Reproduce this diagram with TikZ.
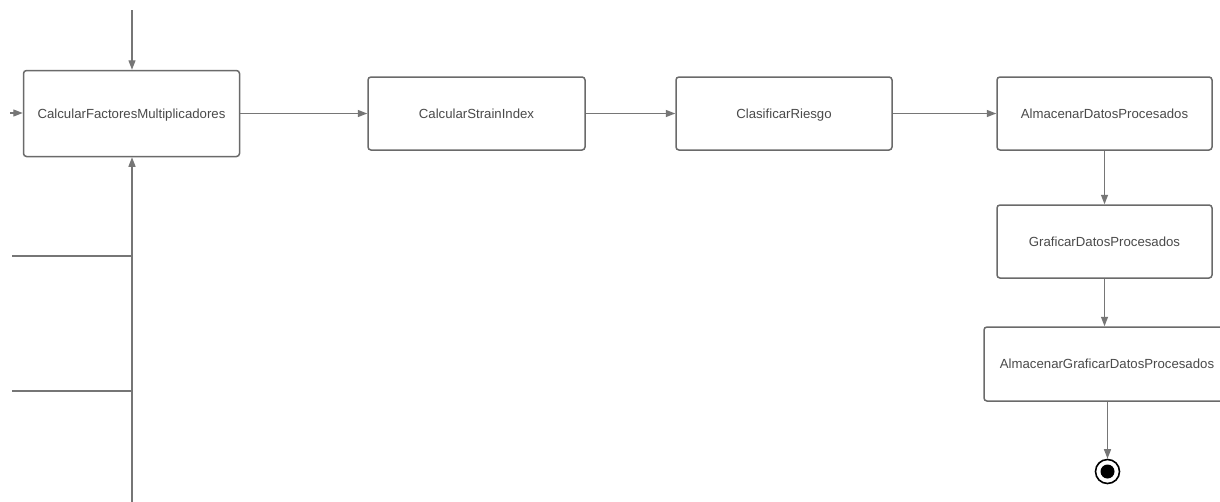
\documentclass[tikz,border=0pt]{standalone}
\usepackage{fontspec}
\setmainfont{Liberation Sans}
\usetikzlibrary{arrows.meta}
\definecolor{boxline}{HTML}{6A6A6A}
\definecolor{wire}{HTML}{767676}
\definecolor{txt}{HTML}{4A4A4A}
\begin{document}
\begin{tikzpicture}[x=1pt,y=-1pt,
  act/.style={draw=boxline,line width=1.5pt,rounded corners=3pt,fill=white,
    text=txt,font=\fontsize{13.2}{15}\selectfont,inner sep=0pt,
    text height=9.5pt,text depth=0pt},
  flow/.style={draw=wire,line width=1.3pt,-{Triangle[length=9.5pt,width=7pt]}},
  wireline/.style={draw=wire,line width=1.3pt}]
\clip (0,0) rectangle (1220,501);
\fill[white] (0,0) rectangle (1220,501);

% activities
\node[act,minimum width=216pt,minimum height=86pt] (calc) at (131.5,113.5) {CalcularFactoresMultiplicadores};
\node[act,minimum width=217pt,minimum height=73pt] (strain) at (476.5,113.5) {CalcularStrainIndex};
\node[act,minimum width=216pt,minimum height=73pt] (riesgo) at (784,113.5) {ClasificarRiesgo};
\node[act,minimum width=215pt,minimum height=73pt] (alm) at (1104.5,113.5) {AlmacenarDatosProcesados};
\node[act,minimum width=215pt,minimum height=73pt] (graf) at (1104.5,241.5) {GraficarDatosProcesados};
\node[act,minimum width=246pt,minimum height=74pt] (almgraf) at (1107,364) {AlmacenarGraficarDatosProcesados};

% final state
\node[circle,draw=black,line width=1.6pt,minimum size=24pt,inner sep=0pt,fill=white] (fin) at (1107.5,471.5) {};
\fill[black] (fin.center) circle (7pt);

% incoming flows at the left
\coordinate (topin) at (132,10);
\coordinate (leftin) at (10,113);
\coordinate (botin) at (132,505);
\coordinate (ja) at (132,256);
\coordinate (jb) at (132,391);
\coordinate (la) at (12,256);
\coordinate (lb) at (12,391);

\draw[flow] (topin) -- (calc.north -| topin);
\draw[flow] (leftin) -- (calc.west |- leftin);
\draw[flow] (botin) -- (calc.south -| botin);
\draw[wireline] (la) -- (ja);
\draw[wireline] (lb) -- (jb);

% main sequence
\draw[flow] (calc.east |- strain) -- (strain.west);
\draw[flow] (strain.east) -- (riesgo.west);
\draw[flow] (riesgo.east) -- (alm.west);
\draw[flow] (alm.south) -- (graf.north);
\draw[flow] (graf.south) -- (graf.south |- almgraf.north);
\draw[flow] (almgraf.south -| fin) -- (fin.north);
\end{tikzpicture}
\end{document}
